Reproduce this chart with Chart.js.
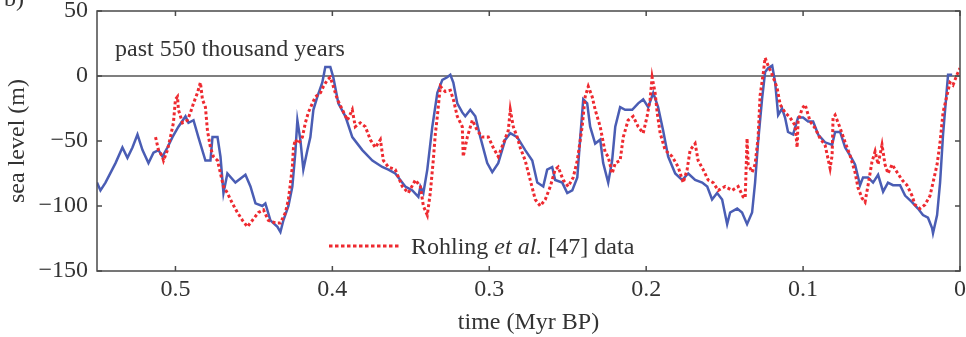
<!DOCTYPE html>
<html>
<head>
<meta charset="utf-8">
<script src="https://cdn.jsdelivr.net/npm/chart.js@4/dist/chart.umd.min.js"></script>
<style>
  html, body { margin: 0; padding: 0; background: #fff; }
  #wrap { width: 966px; height: 337px; position: relative; }
</style>
</head>
<body>
<div id="wrap"><canvas id="c" width="966" height="337"></canvas></div>
<script>
// ---- data (time in Myr BP, sea level in m) ----
const modelTime = [0.55,0.5478,0.5446,0.5382,0.5338,0.5306,0.5274,0.5242,0.5210,0.5172,0.5140,0.5108,0.5083,0.5051,0.5019,0.4981,0.4936,0.4917,0.4885,0.4854,0.4809,0.4777,0.4764,0.4732,0.4713,0.4694,0.4669,0.4618,0.4554,0.4522,0.4490,0.4446,0.4427,0.4395,0.4350,0.4331,0.4312,0.4280,0.4255,0.4236,0.4223,0.4204,0.4185,0.4159,0.4140,0.4121,0.4096,0.4064,0.4045,0.4013,0.3994,0.3962,0.3917,0.3873,0.3809,0.3745,0.3682,0.3643,0.3599,0.3535,0.3490,0.3452,0.3439,0.3420,0.3395,0.3363,0.3331,0.3299,0.3268,0.3248,0.3229,0.3204,0.3172,0.3153,0.3121,0.3089,0.3057,0.3013,0.2981,0.2943,0.2898,0.2866,0.2822,0.2771,0.2726,0.2694,0.2656,0.2631,0.2599,0.2580,0.2535,0.2503,0.2471,0.2439,0.2420,0.2401,0.2376,0.2357,0.2325,0.2293,0.2274,0.2242,0.2217,0.2197,0.2166,0.2134,0.2089,0.2051,0.2019,0.1987,0.1955,0.1924,0.1892,0.1860,0.1815,0.1771,0.1732,0.1688,0.1643,0.1611,0.1580,0.1548,0.1516,0.1484,0.1465,0.1420,0.1389,0.1357,0.1325,0.1306,0.1287,0.1261,0.1242,0.1223,0.1197,0.1178,0.1159,0.1134,0.1115,0.1096,0.1064,0.1032,0.1000,0.0968,0.0936,0.0904,0.0860,0.0815,0.0796,0.0764,0.0732,0.0701,0.0669,0.0637,0.0618,0.0586,0.0554,0.0522,0.0490,0.0459,0.0427,0.0382,0.0350,0.0306,0.0268,0.0236,0.0204,0.0178,0.0172,0.0146,0.0127,0.0108,0.0083,0.0076,0.0050];
const modelSea = [-82,-88,-82,-67,-55,-63,-55,-45,-57,-67,-59,-57,-62,-55,-47,-39,-31,-36,-34,-47,-65,-65,-47,-47,-62,-90,-75,-82,-76,-85,-98,-100,-98,-111,-116,-120,-111,-100,-85,-59,-34,-49,-72,-57,-47,-26,-16,-5,7,7,-1,-21,-31,-47,-57,-65,-70,-72,-75,-85,-88,-93,-85,-90,-72,-39,-13,-3,-1,1,-5,-21,-28,-31,-26,-31,-47,-67,-74,-67,-49,-44,-47,-57,-65,-82,-85,-72,-70,-80,-82,-90,-88,-78,-47,-18,-21,-39,-52,-49,-67,-82,-65,-39,-24,-26,-26,-21,-18,-24,-13,-24,-42,-62,-75,-80,-75,-80,-82,-85,-95,-90,-95,-114,-105,-102,-105,-114,-105,-82,-51,-17,3,6,8,-5,-30,-25,-32,-43,-45,-32,-32,-35,-35,-45,-51,-53,-43,-43,-55,-61,-68,-84,-78,-78,-82,-76,-89,-82,-84,-84,-92,-97,-102,-107,-109,-117,-121,-107,-82,-45,-9,1,1];

const rohlingTime = [
  0.5127,0.5108,0.5083,0.5076,0.5051,0.5032,0.5013,0.5000,0.4987,0.4981,
  0.4955,0.4924,0.4904,0.4885,0.4860,0.4841,0.4828,0.4809,0.4796,0.4777,
  0.4758,0.4732,0.4713,0.4694,0.4669,0.4637,0.4605,0.4573,0.4541,0.4510,
  0.4471,0.4439,0.4408,0.4363,0.4331,0.4299,0.4280,0.4255,0.4248,0.4236,
  0.4217,0.4191,0.4172,0.4153,0.4127,0.4108,0.4076,0.4057,0.4032,0.4013,
  0.3994,0.3968,0.3936,0.3904,0.3873,0.3854,0.3822,0.3790,0.3758,0.3726,
  0.3694,0.3675,0.3643,0.3599,0.3554,0.3516,0.3471,0.3439,0.3420,0.3395,
  0.3376,0.3357,0.3344,0.3331,0.3312,0.3280,0.3248,0.3229,0.3204,0.3172,
  0.3166,0.3140,0.3108,0.3076,0.3045,0.3006,0.2975,0.2943,0.2911,0.2879,
  0.2866,0.2847,0.2822,0.2803,0.2771,0.2739,0.2707,0.2675,0.2643,0.2611,
  0.2580,0.2561,0.2529,0.2497,0.2465,0.2439,0.2408,0.2389,0.2369,0.2344,
  0.2325,0.2293,0.2261,0.2242,0.2217,0.2197,0.2166,0.2146,0.2115,0.2083,
  0.2051,0.2019,0.1994,0.1975,0.1962,0.1943,0.1930,0.1911,0.1879,0.1834,
  0.1796,0.1764,0.1739,0.1720,0.1688,0.1669,0.1637,0.1605,0.1573,0.1541,
  0.1497,0.1452,0.1414,0.1382,0.1369,0.1357,0.1350,0.1325,0.1306,0.1287,
  0.1274,0.1255,0.1242,0.1223,0.1197,0.1166,0.1146,0.1115,0.1083,0.1051,
  0.1038,0.1032,0.1006,0.0987,0.0955,0.0924,0.0892,0.0860,0.0828,0.0815,
  0.0809,0.0796,0.0764,0.0732,0.0701,0.0669,0.0650,0.0624,0.0605,0.0586,
  0.0561,0.0541,0.0522,0.0497,0.0478,0.0459,0.0433,0.0401,0.0369,0.0338,
  0.0306,0.0287,0.0255,0.0223,0.0191,0.0172,0.0146,0.0127,0.0108,0.0083,
  0.0064,0.0045,0.0019,0.0000
];
const rohlingSea = [
  -47,-57,-62,-65,-57,-47,-36,-18,-16,-26,
  -36,-34,-28,-21,-13,-5,-18,-24,-42,-55,
  -62,-65,-75,-85,-90,-98,-105,-111,-116,-111,
  -105,-103,-111,-113,-113,-105,-95,-70,-55,-49,
  -52,-47,-36,-28,-21,-16,-13,-8,-3,-1,
  -8,-18,-26,-34,-26,-39,-36,-39,-49,-55,
  -49,-65,-70,-72,-85,-90,-80,-85,-100,-107,
  -90,-65,-45,-31,-8,-12,-11,-18,-31,-39,
  -62,-47,-34,-42,-47,-47,-55,-62,-52,-42,
  -26,-39,-47,-55,-65,-80,-95,-100,-95,-85,
  -72,-70,-80,-85,-78,-65,-39,-16,-8,-16,
  -26,-39,-59,-62,-75,-67,-65,-47,-34,-31,
  -39,-44,-31,-18,-1,-13,-28,-44,-57,-62,
  -70,-82,-72,-57,-52,-65,-72,-80,-82,-88,
  -85,-88,-85,-93,-94,-48,-68,-74,-68,-48,
  -15,1,14,8,1,-9,-22,-28,-32,-38,
  -55,-35,-25,-22,-35,-40,-48,-53,-71,-61,
  -32,-30,-40,-51,-61,-74,-86,-94,-97,-84,
  -66,-58,-68,-53,-68,-75,-68,-74,-80,-84,
  -92,-99,-102,-99,-92,-82,-68,-51,-28,-15,
  -5,-7,1,6
];

const xTickValues = [0.5, 0.4, 0.3, 0.2, 0.1, 0];
const yTickValues = [50, 0, -50, -100, -150];

const panelTitle = 'past 550 thousand years';
const legendParts = [['Rohling ', false], ['et al.', true], [' [47] data', false]];

// ---- style ----
const FONT = '"Liberation Serif", "Times New Roman", serif';
const TEXT = '#333333';
const AXIS = '#4a4a4a';
const BLUE = '#4a5db4';
const RED = '#ee2a30';

const toPts = (xs, ys) => xs.map((x, i) => ({ x: x, y: ys[i] }));

const decor = {
  id: 'decor',
  beforeDatasetsDraw(chart) {
    const { ctx, chartArea: a, scales: { y } } = chart;
    const y0 = y.getPixelForValue(0);
    ctx.save();
    ctx.strokeStyle = '#555';
    ctx.lineWidth = 1.5;
    ctx.beginPath();
    ctx.moveTo(a.left, y0); ctx.lineTo(a.right, y0);
    ctx.stroke();
    ctx.restore();
  },
  afterDraw(chart) {
    const { ctx, chartArea: a, scales: { x, y } } = chart;
    ctx.save();
    ctx.strokeStyle = AXIS;
    ctx.lineWidth = 1.5;
    ctx.strokeRect(a.left, a.top, a.right - a.left, a.bottom - a.top);
    const L = 5;
    ctx.beginPath();
    xTickValues.forEach(v => {
      const px = x.getPixelForValue(v);
      ctx.moveTo(px, a.bottom); ctx.lineTo(px, a.bottom - L);
      ctx.moveTo(px, a.top); ctx.lineTo(px, a.top + L);
    });
    yTickValues.forEach(v => {
      const py = y.getPixelForValue(v);
      ctx.moveTo(a.left, py); ctx.lineTo(a.left + L, py);
      ctx.moveTo(a.right, py); ctx.lineTo(a.right - L, py);
    });
    ctx.stroke();

    ctx.fillStyle = TEXT;
    ctx.font = '24px ' + FONT;
    ctx.textBaseline = 'alphabetic';
    ctx.textAlign = 'left';
    ctx.fillText(panelTitle, 115, 56);

    // cut-off panel label
    ctx.fillText('b)', 4, 6);

    // legend
    ctx.strokeStyle = RED;
    ctx.lineWidth = 3;
    ctx.setLineDash([3.5, 2.5]);
    ctx.beginPath();
    ctx.moveTo(329, 246); ctx.lineTo(401, 246);
    ctx.stroke();
    ctx.setLineDash([]);
    let tx = 411;
    legendParts.forEach(([s, it]) => {
      ctx.font = (it ? 'italic ' : '') + '24px ' + FONT;
      ctx.fillText(s, tx, 254);
      tx += ctx.measureText(s).width;
    });
    ctx.restore();
  }
};

const fmtMinus = v => (v < 0 ? '\u2212' + Math.abs(v) : String(v));

new Chart(document.getElementById('c'), {
  type: 'line',
  data: {
    datasets: [
      {
        label: 'Rohling et al. [47] data',
        data: toPts(rohlingTime, rohlingSea),
        borderColor: RED,
        borderWidth: 3,
        borderDash: [3, 2.5],
        pointRadius: 0,
        tension: 0,
        fill: false,
        order: 0
      },
      {
        label: 'model',
        data: toPts(modelTime, modelSea),
        borderColor: BLUE,
        borderWidth: 2.5,
        pointRadius: 0,
        tension: 0,
        fill: false,
        order: 1
      }
    ]
  },
  options: {
    responsive: false,
    animation: false,
    layout: { padding: { top: 11, right: 6, left: 0, bottom: 0 } },
    plugins: { legend: { display: false }, tooltip: { enabled: false } },
    scales: {
      x: {
        type: 'linear',
        reverse: true,
        min: 0,
        max: 0.55,
        grid: { display: false, drawTicks: false },
        border: { display: false },
        afterBuildTicks: s => { s.ticks = xTickValues.map(v => ({ value: v })); },
        ticks: {
          color: TEXT,
          font: { family: FONT, size: 24 },
          padding: 4,
          maxRotation: 0,
          autoSkip: false,
          callback: v => (v === 0 ? '0' : String(Math.round(v * 10) / 10))
        },
        title: {
          display: true,
          text: 'time (Myr BP)',
          color: TEXT,
          font: { family: FONT, size: 24 },
          padding: { top: 0, bottom: 0 }
        },
        afterFit: s => { s.height = 66; s.paddingLeft = 0; s.paddingRight = 0; }
      },
      y: {
        type: 'linear',
        min: -150,
        max: 50,
        grid: { display: false, drawTicks: false },
        border: { display: false },
        afterBuildTicks: s => { s.ticks = yTickValues.map(v => ({ value: v })); },
        ticks: {
          color: TEXT,
          font: { family: FONT, size: 24 },
          padding: 9,
          autoSkip: false,
          callback: v => fmtMinus(v)
        },
        title: {
          display: true,
          text: 'sea level (m)',
          color: TEXT,
          font: { family: FONT, size: 24 },
          padding: { top: 3, bottom: 0 }
        },
        afterFit: s => { s.width = 97; s.paddingTop = 0; s.paddingBottom = 0; }
      }
    }
  },
  plugins: [decor]
});
</script>
</body>
</html>
